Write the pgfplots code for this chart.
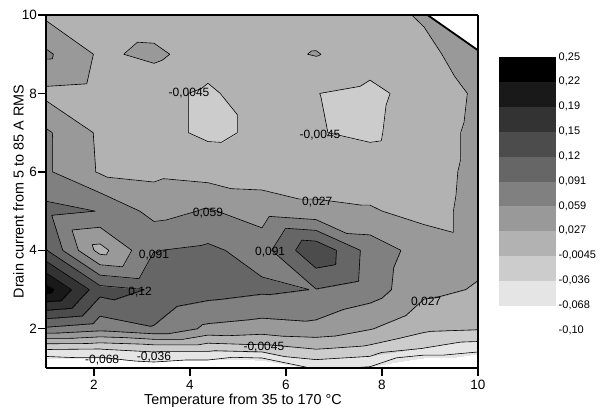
\documentclass[border=0pt]{standalone}
\usepackage{pgfplots}
\usepackage{pgfplotstable}
\pgfplotsset{compat=1.18}
\usepackage{fontspec}
\setmainfont{Liberation Sans}

% grid values (x: temperature step, y: drain current step)
\pgfplotstableread{
x y z
1 1 -0.120
2.125 1 -0.110
3.25 1 -0.087
4.375 1 -0.098
5.5 1 -0.120
6.625 1 -0.062
7.75 1 -0.072
8.875 1 -0.128
10 1 -0.127
1 1.5 -0.032
2.125 1.5 -0.034
3.25 1.5 -0.025
4.375 1.5 -0.025
5.5 1.5 -0.018
6.625 1.5 -0.002
7.75 1.5 -0.012
8.875 1.5 -0.037
10 1.5 -0.055
1 2 0.085
2.125 2 0.070
3.25 2 0.088
4.375 2 0.052
5.5 2 0.045
6.625 2 0.050
7.75 2 0.029
8.875 2 0.003
10 2 -0.002
1 3 0.232
2.125 3 0.135
3.25 3 0.120
4.375 3 0.106
5.5 3 0.097
6.625 3 0.090
7.75 3 0.075
8.875 3 0.035
10 3 0.025
1 4 0.125
2.125 4 0.015
3.25 4 0.090
4.375 4 0.097
5.5 4 0.078
6.625 4 0.150
7.75 4 0.078
8.875 4 0.045
10 4 0.035
1 5 0.100
2.125 5 0.090
3.25 5 0.048
4.375 5 0.062
5.5 5 0.045
6.625 5 0.034
7.75 5 0.030
8.875 5 0.018
10 5 0.035
1 6 0.064
2.125 6 0.024
3.25 6 0.020
4.375 6 0.014
5.5 6 0.012
6.625 6 0.012
7.75 6 0.012
8.875 6 0.016
10 6 0.034
1 7 0.064
2.125 7 0.022
3.25 7 0.005
4.375 7 -0.010
5.5 7 0.000
6.625 7 -0.003
7.75 7 -0.010
8.875 7 0.013
10 7 0.034
1 8 0.019
2.125 8 0.015
3.25 8 0.005
4.375 8 -0.010
5.5 8 0.014
6.625 8 -0.004
7.75 8 -0.012
8.875 8 0.008
10 8 0.032
1 9 0.065
2.125 9 0.022
3.25 9 0.034
4.375 9 0.011
5.5 9 0.018
6.625 9 0.029
7.75 9 0.010
8.875 9 0.021
10 9 0.040
1 10 0.021
2.125 10 0.012
3.25 10 0.010
4.375 10 0.008
5.5 10 0.008
6.625 10 0.010
7.75 10 0.018
8.875 10 0.030
10 10 0.040
}\datatable

% contour lines: linear interpolation on the two triangles of each grid cell
\newcount\ncross
\def\segs{}
\newcommand\getpt[2]{%
  \pgfplotstablegetelem{#1}{x}\of\datatable\expandafter\let\csname #2x\endcsname\pgfplotsretval
  \pgfplotstablegetelem{#1}{y}\of\datatable\expandafter\let\csname #2y\endcsname\pgfplotsretval
  \pgfplotstablegetelem{#1}{z}\of\datatable\expandafter\let\csname #2z\endcsname\pgfplotsretval}
\newcommand\crossedge[6]{%
  \ifdim #3pt<0pt \def\sgnA{0}\else\def\sgnA{1}\fi
  \ifdim #6pt<0pt \def\sgnB{0}\else\def\sgnB{1}\fi
  \ifx\sgnA\sgnB\else
    \pgfmathsetmacro\cT{(#3)/((#3)-(#6))}%
    \pgfmathsetmacro\cX{(#1)+\cT*((#4)-(#1))}%
    \pgfmathsetmacro\cY{(#2)+\cT*((#5)-(#2))}%
    \xdef\segs{\segs(\cX,\cY,0) }%
    \global\advance\ncross by 1
  \fi}
\newcommand\dotri[9]{%
  \pgfmathsetmacro\sA{1000*((#3)-(\lev))}%
  \pgfmathsetmacro\sB{1000*((#6)-(\lev))}%
  \pgfmathsetmacro\sC{1000*((#9)-(\lev))}%
  \global\ncross=0
  \crossedge{#1}{#2}{\sA}{#4}{#5}{\sB}%
  \crossedge{#4}{#5}{\sB}{#7}{#8}{\sC}%
  \crossedge{#7}{#8}{\sC}{#1}{#2}{\sA}%
  \ifnum\ncross>0 \xdef\segs{\segs(nan,nan,0) }\fi}

\begin{document}
\begin{tikzpicture}
\foreach \i in {0,...,9}{%
  \foreach \j in {0,...,7}{%
    \pgfmathtruncatemacro\iA{\i*9+\j}%
    \pgfmathtruncatemacro\iB{\i*9+\j+1}%
    \pgfmathtruncatemacro\iC{(\i+1)*9+\j+1}%
    \pgfmathtruncatemacro\iD{(\i+1)*9+\j}%
    \getpt{\iA}{A}\getpt{\iB}{B}\getpt{\iC}{C}\getpt{\iD}{D}%
    \foreach \lev in {-0.068182,-0.036364,-0.004545,0.027273,0.059091,0.090909,0.122727,0.154545,0.186364,0.218182}{%
      \dotri{\Ax}{\Ay}{\Az}{\Bx}{\By}{\Bz}{\Dx}{\Dy}{\Dz}%
      \dotri{\Bx}{\By}{\Bz}{\Cx}{\Cy}{\Cz}{\Dx}{\Dy}{\Dz}%
    }%
  }%
}
\begin{axis}[
  name=main,
  view={0}{90},
  scale only axis, width=432pt, height=353pt,
  xmin=1, xmax=10, ymin=1, ymax=10,
  xtick={2,4,6,8,10}, ytick={2,4,6,8,10}, ztick=\empty,
  tick align=outside, tick pos=left,
  major tick length=8pt,
  tick style={black, line width=1.3pt},
  axis line style={line width=1.6pt},
  axis on top,
  /pgf/number format/assume math mode=true,
  tick label style={font=\fontsize{13.5}{15}\selectfont},
  xticklabel style={anchor=base, yshift=-14pt},
  yticklabel style={anchor=east, inner sep=0pt, xshift=-1pt},
  xlabel={Temperature from 35 to 170 °C},
  ylabel={Drain current from 5 to 85 A RMS},
  label style={font=\fontsize{14.4}{16}\selectfont},
  xlabel style={at={(axis description cs:0.456,-0.102)}, anchor=base},
  ylabel style={at={(axis description cs:-0.0637,0.5)}, anchor=center},
  colormap={refgray}{gray=(1) gray=(0.9) gray=(0.8) gray=(0.7) gray=(0.6) gray=(0.5) gray=(0.4) gray=(0.3) gray=(0.2) gray=(0.1) gray=(0)},
  colormap access=piecewise constant,
  point meta min=-0.1, point meta max=0.25,
  colorbar right,
  colorbar style={
    at={(parent axis.north east)}, anchor=north west,
    xshift=12pt, yshift=-42pt,
    scale only axis, width=57pt, height=273pt,
    axis line style={draw=none},
    ytick={-0.1,-0.068182,-0.036364,-0.004545,0.027273,0.059091,0.090909,0.122727,0.154545,0.186364,0.218182,0.25},
    yticklabels={{-0,10},{-0,068},{-0,036},{-0,0045},{0,027},{0,059},{0,091},{0,12},{0,15},{0,19},{0,22},{0,25}},
    ytick style={draw=none},
    yticklabel style={font=\fontsize{11}{12}\selectfont, anchor=west, inner sep=0pt, xshift=3pt},
  },
]
\addplot3[surf, shader=interp, mesh/cols=9] table {\datatable};
\edef\tmp{\noexpand\addplot3[black, line width=0.6pt, unbounded coords=jump, forget plot] coordinates {\segs};}\tmp
\addplot3[fill=white, draw=none, forget plot] coordinates {(8.95,10,0) (10,9.1,0) (10,10,0) (8.95,10,0)};
\addplot3[black, line width=1.8pt, forget plot] coordinates {(8.95,10,0) (10,9.1,0)};
\begin{scope}[font=\fontsize{12}{13}\selectfont, inner sep=0.5pt]
\node at (axis cs:3.98,8.0,0) {-0,0045};
\node at (axis cs:6.71,6.95,0) {-0,0045};
\node at (axis cs:4.375,4.95,0) {0,059};
\node at (axis cs:6.65,5.23,0) {0,027};
\node at (axis cs:3.25,3.88,0) {0,091};
\node at (axis cs:5.67,3.96,0) {0,091};
\node at (axis cs:2.96,2.94,0) {0,12};
\node at (axis cs:8.92,2.68,0) {0,027};
\node at (axis cs:2.17,1.2,0) {-0,068};
\node at (axis cs:3.25,1.28,0) {-0,036};
\node at (axis cs:5.54,1.535,0) {-0,0045};
\end{scope}
\end{axis}
\path ([shift={(-46pt,-42pt)}]main.south west) rectangle ([shift={(129pt,15pt)}]main.north east);
\end{tikzpicture}
\end{document}
